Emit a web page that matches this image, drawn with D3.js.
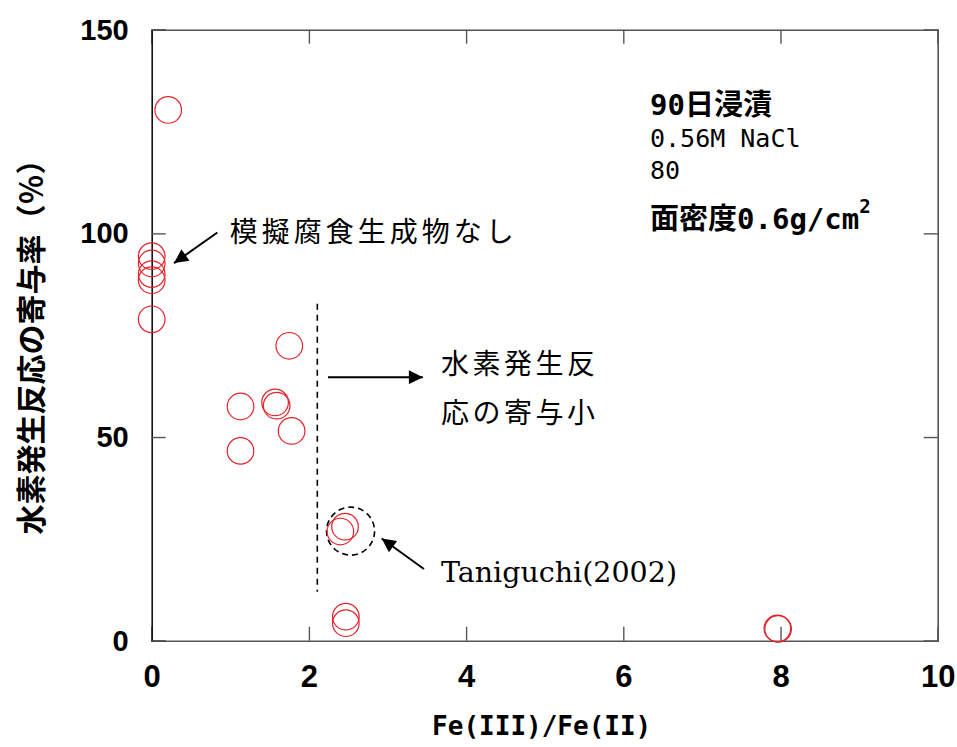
<!DOCTYPE html>
<html>
<head>
<meta charset="utf-8">
<script src="https://cdn.jsdelivr.net/npm/d3@7"></script>
<style>
  html, body { margin: 0; padding: 0; background: #fff; }
  svg { display: block; }
</style>
</head>
<body>
<svg id="chart" width="957" height="747"></svg>
<script>
// Fe(III)/Fe(II) ratio vs. contribution of the hydrogen evolution reaction (%)
const ratioMeasured = [0.21, 0, 0, 0, 0, 0, 1.13, 1.13, 1.57, 1.59, 1.75, 1.78, 2.47, 2.47, 7.96, 7.97];
const contribMeasured = [130.3, 94.4, 92.6, 90.0, 88.5, 78.9, 57.5, 46.6, 58.5, 57.7, 72.4, 51.5, 5.9, 4.3, 3.0, 2.9];

// Taniguchi (2002) points
const ratioTaniguchi = [2.40, 2.46];
const contribTaniguchi = [26.8, 28.0];

const xTicks = [0, 2, 4, 6, 8, 10];
const yTicks = [0, 50, 100, 150];

const xDomain = [0, 10];
const yDomain = [0, 150];

const svg = d3.select("#chart");
const plotLeft = 151.7, plotRight = 937.7, plotTop = 29.7, plotBottom = 640.7;

const x = d3.scaleLinear().domain(xDomain).range([plotLeft, plotRight]);
const y = d3.scaleLinear().domain(yDomain).range([plotBottom, plotTop]);

const frameColor = "#555";
const red = "#e3242b";
const tickLen = 14;

// arrowhead marker
svg.append("defs").append("marker")
  .attr("id", "arrow")
  .attr("viewBox", "0 0 10 10")
  .attr("refX", 10).attr("refY", 5)
  .attr("markerWidth", 8.5).attr("markerHeight", 7)
  .attr("markerUnits", "strokeWidth")
  .attr("orient", "auto")
  .append("path").attr("d", "M0,0 L10,5 L0,10 Z").attr("fill", "#000");

// axes with inward ticks
const gBottom = svg.append("g").attr("transform", `translate(0,${plotBottom})`)
  .call(d3.axisBottom(x).tickValues(xTicks).tickSize(-tickLen).tickPadding(tickLen + 21).tickFormat(d3.format("d")));
const gTop = svg.append("g").attr("transform", `translate(0,${plotTop})`)
  .call(d3.axisTop(x).tickValues(xTicks).tickSize(-tickLen).tickFormat(""));
const gLeft = svg.append("g").attr("transform", `translate(${plotLeft},0)`)
  .call(d3.axisLeft(y).tickValues(yTicks).tickSize(-tickLen).tickPadding(tickLen + 9).tickFormat(d3.format("d")));
const gRight = svg.append("g").attr("transform", `translate(${plotRight},0)`)
  .call(d3.axisRight(y).tickValues(yTicks).tickSize(-tickLen).tickFormat(""));

[gBottom, gTop, gLeft, gRight].forEach(g => {
  g.select(".domain").attr("stroke", frameColor).attr("stroke-width", 1.6);
  g.selectAll(".tick line").attr("stroke", frameColor).attr("stroke-width", 1.4);
});
gLeft.select(".domain").attr("stroke", "#111");

gBottom.selectAll(".tick text")
  .attr("fill", "#000")
  .attr("dy", "0.36em")
  .style("font-family", "'Liberation Sans', Arial, sans-serif")
  .style("font-weight", "bold")
  .style("font-size", "31px");
gLeft.selectAll(".tick text")
  .attr("fill", "#000")
  .attr("dy", "0.33em")
  .style("font-family", "'Liberation Sans', Arial, sans-serif")
  .style("font-weight", "bold")
  .style("font-size", "29px");

// axis titles
svg.append("text")
  .attr("x", (plotLeft + plotRight) / 2 - 3).attr("y", 726)
  .attr("text-anchor", "middle").attr("dominant-baseline", "central")
  .style("font-family", "'DejaVu Sans Mono', monospace")
  .style("font-weight", "bold").style("font-size", "26px")
  .text("Fe(III)/Fe(II)");

svg.append("text")
  .attr("transform", `translate(29,${(139 + 540) / 2}) rotate(-90)`)
  .attr("text-anchor", "middle").attr("dominant-baseline", "central")
  .style("font-family", "'Noto Sans CJK JP', sans-serif")
  .style("font-weight", "bold").style("font-size", "30px")
  .text("水素発生反応の寄与率（％）");

// dashed boundary line
svg.append("line")
  .attr("x1", x(2.107)).attr("x2", x(2.107))
  .attr("y1", y(82.7)).attr("y2", y(12.0))
  .attr("stroke", "#000").attr("stroke-width", 1.6)
  .attr("stroke-dasharray", "6,5");

// dashed ring around Taniguchi data
svg.append("circle")
  .attr("cx", x(2.53)).attr("cy", y(26.9)).attr("r", 24)
  .attr("fill", "none").attr("stroke", "#000").attr("stroke-width", 1.6)
  .attr("stroke-dasharray", "6,4");

// data points
const measured = ratioMeasured.map((v, i) => ({ r: v, c: contribMeasured[i] }));
const taniguchi = ratioTaniguchi.map((v, i) => ({ r: v, c: contribTaniguchi[i] }));

svg.append("g").selectAll("circle")
  .data(measured.concat(taniguchi))
  .join("circle")
  .attr("cx", d => x(d.r)).attr("cy", d => y(d.c)).attr("r", 13.3)
  .attr("fill", "none").attr("stroke", red).attr("stroke-width", 1.2);

// annotation arrows
function arrow(x1, y1, x2, y2) {
  svg.append("line")
    .attr("x1", x(x1)).attr("y1", y(y1)).attr("x2", x(x2)).attr("y2", y(y2))
    .attr("stroke", "#000").attr("stroke-width", 2)
    .attr("marker-end", "url(#arrow)");
}
arrow(0.835, 100.2, 0.284, 92.7);
arrow(2.243, 64.7, 3.45, 64.7);
arrow(3.464, 17.6, 2.926, 25.1);

const jp = "'Noto Sans CJK JP', sans-serif";
function label(txt, xv, yv, size, spacing) {
  svg.append("text")
    .attr("x", x(xv)).attr("y", y(yv))
    .attr("dominant-baseline", "central")
    .style("font-family", jp).style("font-size", size + "px")
    .style("letter-spacing", spacing + "px")
    .text(txt);
}
label("模擬腐食生成物なし", 0.994, 100.8, 28, 4);
label("水素発生反", 3.68, 68.3, 28, 3.5);
label("応の寄与小", 3.68, 56.5, 28, 3.5);

svg.append("text")
  .attr("x", x(3.68)).attr("y", y(14.4))
  .style("font-family", "'DejaVu Serif', serif").style("font-size", "28.5px")
  .text("Taniguchi(2002)");

// experimental conditions
const mono = "'DejaVu Sans Mono', 'Noto Sans CJK JP', monospace";
const cond = svg.append("g").style("font-family", mono);
cond.append("text").attr("x", 650).attr("y", 105).attr("dominant-baseline", "central")
  .style("font-size", "29px").style("font-weight", "bold").text("90日浸漬");
cond.append("text").attr("x", 650).attr("y", 138).attr("dominant-baseline", "central")
  .style("font-size", "25px").text("0.56M NaCl");
cond.append("text").attr("x", 650).attr("y", 170).attr("dominant-baseline", "central")
  .style("font-size", "25px").text("80");
const dens = cond.append("text").attr("x", 650).attr("y", 219).attr("dominant-baseline", "central")
  .style("font-size", "29px").style("font-weight", "bold");
dens.append("tspan").text("面密度0.6g/cm");
dens.append("tspan").attr("dy", -13).style("font-size", "19px").text("2");
</script>
</body>
</html>
